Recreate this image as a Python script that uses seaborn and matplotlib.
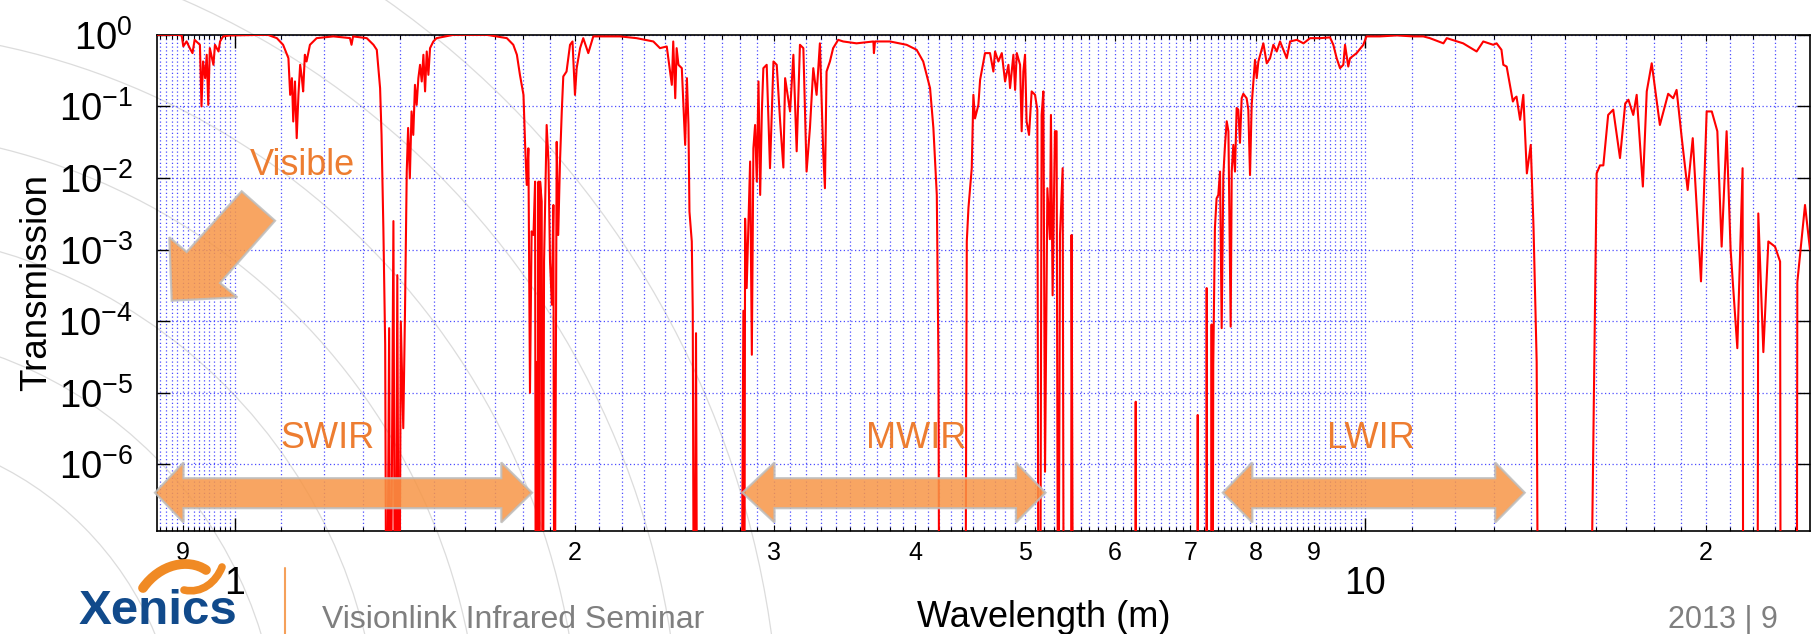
import matplotlib
matplotlib.use("Agg")
import matplotlib.pyplot as plt
import numpy as np
import pandas as pd
import seaborn as sns
from matplotlib.patches import Polygon, Circle, PathPatch
from matplotlib.path import Path
from matplotlib.ticker import FixedLocator, FixedFormatter, NullLocator

OFF = 1e-10  # below the axis floor: the trace runs off the bottom

# atmospheric transmission (wavelength in micron)
wavelength_um = [
    0.853, 0.889, 0.898, 0.901, 0.907, 0.913, 0.918, 0.922, 0.932, 0.935,
    0.938, 0.942, 0.945, 0.948, 0.951, 0.958, 0.961, 0.968, 0.971, 0.977,
    0.990, 1.070, 1.090, 1.104, 1.116, 1.120, 1.124, 1.127, 1.131, 1.135,
    1.139, 1.143, 1.147, 1.150, 1.154, 1.158, 1.166, 1.182, 1.223, 1.265,
    1.269, 1.273, 1.309, 1.327, 1.336, 1.345, 1.349, 1.354, 1.359, 1.363,
    1.370, 1.373, 1.382, 1.387, 1.393, 1.398, 1.403, 1.410, 1.415, 1.420,
    1.424, 1.429, 1.434, 1.439, 1.444, 1.449, 1.454, 1.459, 1.464, 1.469,
    1.474, 1.479, 1.484, 1.489, 1.499, 1.509, 1.562, 1.671, 1.741, 1.764,
    1.777, 1.788, 1.801, 1.807, 1.813, 1.819, 1.825, 1.831, 1.838, 1.844,
    1.847, 1.850, 1.853, 1.857, 1.860, 1.863, 1.869, 1.873, 1.878, 1.888,
    1.895, 1.901, 1.908, 1.914, 1.918, 1.927, 1.933, 1.940, 1.947, 1.953,
    1.966, 1.980, 1.990, 2.000, 2.007, 2.021, 2.034, 2.055, 2.076, 2.192,
    2.267, 2.346, 2.378, 2.411, 2.436, 2.443, 2.453, 2.460, 2.469, 2.486,
    2.503, 2.512, 2.520, 2.525, 2.537, 2.542, 2.549, 2.559, 2.566, 2.805,
    2.818, 2.823, 2.828, 2.837, 2.857, 2.867, 2.876, 2.886, 2.896, 2.906,
    2.916, 2.926, 2.935, 2.955, 2.975, 2.996, 3.016, 3.037, 3.057, 3.068,
    3.099, 3.120, 3.141, 3.162, 3.184, 3.205, 3.227, 3.249, 3.271, 3.293,
    3.316, 3.327, 3.338, 3.361, 3.383, 3.418, 3.453, 3.548, 3.672, 3.676,
    3.684, 3.798, 3.929, 4.010, 4.064, 4.121, 4.149, 4.178, 4.192, 4.201,
    4.426, 4.441, 4.456, 4.486, 4.501, 4.516, 4.547, 4.563, 4.594, 4.609,
    4.656, 4.688, 4.704, 4.736, 4.769, 4.801, 4.834, 4.850, 4.883, 4.900,
    4.917, 4.950, 4.966, 4.983, 5.000, 5.016, 5.041, 5.068, 5.103, 5.127,
    5.140, 5.155, 5.172, 5.190, 5.208, 5.233, 5.260, 5.271, 5.289, 5.314,
    5.332, 5.350, 5.369, 5.398, 5.412, 5.490, 5.497, 5.516, 6.255, 6.264,
    6.273, 7.098, 7.107, 7.116, 7.232, 7.238, 7.245, 7.300, 7.311, 7.323,
    7.335, 7.360, 7.385, 7.411, 7.437, 7.462, 7.487, 7.513, 7.539, 7.565,
    7.600, 7.616, 7.641, 7.667, 7.693, 7.719, 7.745, 7.772, 7.798, 7.851,
    7.878, 7.905, 7.932, 7.986, 8.014, 8.041, 8.123, 8.179, 8.234, 8.290,
    8.347, 8.404, 8.519, 8.577, 8.696, 8.814, 8.934, 9.118, 9.304, 9.366,
    9.431, 9.495, 9.559, 9.592, 9.656, 9.690, 9.822, 9.956, 10.02, 10.30,
    10.66, 11.02, 11.25, 11.40, 11.72, 11.80, 12.20, 12.54, 12.71, 12.97,
    13.06, 13.19, 13.24, 13.33, 13.42, 13.50, 13.55, 13.60, 13.70, 13.79,
    13.89, 14.00, 14.08, 14.17, 14.22, 15.78, 16.01, 16.12, 16.23, 16.39,
    16.56, 16.79, 16.97, 17.08, 17.25, 17.37, 17.59, 17.73, 17.91, 18.21,
    18.52, 18.71, 18.84, 19.04, 19.27, 19.47, 19.80, 20.03, 20.24, 20.47,
    20.65, 20.86, 21.03, 21.32, 21.55, 21.58, 22.21, 22.25, 22.48, 22.71,
    23.02, 23.26, 23.29, 24.06, 24.09, 24.47, 24.72,
]
transmission = [
    1.0, 1.0, 0.98, 0.69, 0.81, 0.65, 0.555, 0.85, 0.725, 0.10,
    0.424, 0.248, 0.526, 0.105, 0.651, 0.381, 0.725, 0.585, 0.807, 0.948,
    0.98, 1.0, 0.898, 0.725, 0.472, 0.145, 0.248, 0.0615, 0.223, 0.036,
    0.145, 0.381, 0.248, 0.162, 0.526, 0.424, 0.725, 0.898, 0.95, 0.90,
    0.725, 0.95, 0.898, 0.725, 0.617, 0.18, 0.04, 0.002, 4.7e-5, OFF,
    8e-5, OFF, 2.5e-3, OFF, 4.4e-4, OFF, 9.9e-5, 3.2e-6, 1.4e-4, 0.0123,
    0.05, 0.0099, 0.085, 0.04, 0.2, 0.105, 0.248, 0.381, 0.223, 0.526,
    0.162, 0.585, 0.276, 0.651, 0.807, 0.898, 1.0, 1.0, 0.898, 0.725,
    0.526, 0.276, 0.145, 0.029, 0.008, 0.026, 1.0e-5, 1.8e-3, 1.6e-3, 8.9e-3,
    OFF, 2.7e-5, OFF, 8.9e-3, OFF, 8.9e-3, 4.7e-3, OFF, 6.8e-4, 0.055,
    0.017, 6.8e-4, 1.7e-4, 4.2e-3, OFF, 0.032, 1.6e-3, 0.017, 0.085, 0.262,
    0.307, 0.725, 0.807, 0.145, 0.342, 0.651, 0.898, 0.555, 0.95, 0.95,
    0.898, 0.807, 0.651, 0.687, 0.2, 0.807, 0.13, 0.651, 0.381, 0.342,
    0.029, 0.248, 0.055, 3.4e-3, 1.3e-3, 1.4e-4, OFF, 6.8e-5, OFF, OFF,
    1.4e-4, OFF, 2.7e-3, 2.9e-4, 0.017, 3.4e-5, 0.026, 0.055, 0.0089, 0.223,
    0.0058, 0.085, 0.342, 0.381, 0.0137, 0.424, 0.381, 0.0615, 0.014, 0.248,
    0.085, 0.526, 0.0236, 0.725, 0.651, 0.0123, 0.05, 0.342, 0.145, 0.76,
    0.021, 0.0072, 0.307, 0.424, 0.651, 0.851, 0.807, 0.76, 0.807, 0.555,
    0.807, 0.807, 0.725, 0.617, 0.424, 0.18, 0.05, 0.0058, 2.7e-5, OFF,
    OFF, 1.3e-3, 3.8e-3, 0.0137, 0.145, 0.068, 0.105, 0.235, 0.424, 0.555,
    0.555, 0.307, 0.585, 0.424, 0.555, 0.223, 0.381, 0.18, 0.526, 0.17,
    0.555, 0.381, 0.045, 0.307, 0.526, 0.062, 0.04, 0.162, 0.145, 0.09,
    OFF, OFF, 0.076, 0.162, 7.9e-7, 7.2e-3, 1.4e-3, 0.076, 2.3e-4, 0.045,
    0.045, OFF, 1.6e-3, 0.0137, OFF, OFF, 1.6e-3, OFF, OFF, 7.5e-6,
    OFF, OFF, 4.9e-6, OFF, OFF, 2.9e-4, OFF, OFF, 9e-5, OFF,
    2.4e-5, 2e-3, 5.2e-3, 5.8e-3, 0.0123, 8e-5, 0.011, 0.029, 0.062, 0.045,
    8.4e-5, 0.0123, 0.029, 0.0123, 0.095, 0.09, 0.031, 0.13, 0.15, 0.13,
    0.09, 0.011, 0.105, 0.447, 0.248, 0.424, 0.76, 0.40, 0.47, 0.725,
    0.585, 0.807, 0.47, 0.807, 0.851, 0.76, 0.898, 0.898, 0.92, 0.725,
    0.47, 0.342, 0.381, 0.725, 0.36, 0.47, 0.555, 0.725, 0.95, 0.95,
    0.98, 0.95, 0.95, 0.898, 0.76, 0.898, 0.76, 0.585, 0.807, 0.725,
    0.76, 0.617, 0.381, 0.36, 0.2, 0.117, 0.13, 0.137, 0.065, 0.145,
    0.0116, 0.029, 0.002, 2.7e-5, OFF, OFF, 0.0116, 0.015, 0.015, 0.076,
    0.09, 0.019, 0.11, 0.124, 0.076, 0.145, 0.0076, 0.162, 0.40, 0.055,
    0.15, 0.13, 0.17, 0.036, 0.0068, 0.036, 3.6e-4, 0.085, 0.085, 0.045,
    1.1e-3, 0.045, 1.0e-3, 4.2e-5, 0.0137, OFF, OFF, 3.2e-3, 3.7e-5, 1.3e-3,
    1.1e-3, 6.8e-4, OFF, OFF, 3.5e-4, 4.2e-3, 1.0e-3,
]

xtick_major = [1, 10]
xtick_major_labels = ["1", "10"]
xtick_named = [0.9, 2, 3, 4, 5, 6, 7, 8, 9, 20]
xtick_named_labels = ["9", "2", "3", "4", "5", "6", "7", "8", "9", "2"]
ytick_values = [1e-6, 1e-5, 1e-4, 1e-3, 1e-2, 1e-1, 1]
ytick_labels = ["$10^{-6}$", "$10^{-5}$", "$10^{-4}$", "$10^{-3}$",
                "$10^{-2}$", "$10^{-1}$", "$10^{0}$"]
band_names = ["SWIR", "MWIR", "LWIR"]

W, H = 1817, 634
GRID = (0.3, 0.3, 1.0)
ARROW_FILL = "#F79646"
ARROW_EDGE = "#BDBDBD"
LABEL_ORANGE = "#ED7D31"
GREY_TEXT = "#7F7F7F"

sns.set_style("white")
plt.rcParams["font.family"] = ["Liberation Sans", "DejaVu Sans"]
plt.rcParams["mathtext.fontset"] = "custom"
plt.rcParams["mathtext.rm"] = "Liberation Sans"
plt.rcParams["mathtext.default"] = "regular"

fig = plt.figure(figsize=(W / 100, H / 100), dpi=100)
fig.patch.set_facecolor("white")


def fx(X):
    return X / W


def fy(Y):
    return 1 - Y / H


# faint contour lines of the slide background
for r in [330, 430, 530, 630, 730, 830, 930]:
    fig.add_artist(Circle((-1.5, (H - 760) / 100), r / 100,
                          transform=fig.dpi_scale_trans, fill=False,
                          ec="#dcdcdc", lw=0.9, zorder=-5))

ax = fig.add_axes([fx(156.7), fy(531), (1810 - 156.7) / W, (531 - 34.8) / H])
ax.set_facecolor("none")
ax.set_xscale("log")
ax.set_yscale("log")

df = pd.DataFrame({"wavelength": wavelength_um, "transmission": transmission})
sns.lineplot(data=df, x="wavelength", y="transmission", ax=ax, color="#FF0000",
             lw=1.5, sort=False, estimator=None, zorder=3)
ax.set_xlim(0.8535, 24.72)
ax.set_ylim(10 ** -6.93, 1)
ax.set_xlabel("")

# ticks: decades, every tenth of a decade, named ones a bit longer
minor_x = (list(np.round(np.arange(0.86, 0.995, 0.01), 2))
           + list(np.round(np.arange(1.1, 9.95, 0.1), 1))
           + list(range(11, 25)))
named = dict(zip(xtick_named, xtick_named_labels))
ax.xaxis.set_major_locator(FixedLocator(xtick_major))
ax.xaxis.set_major_formatter(FixedFormatter(xtick_major_labels))
ax.xaxis.set_minor_locator(FixedLocator(minor_x))
ax.xaxis.set_minor_formatter(FixedFormatter([named.get(v, "") for v in minor_x]))
ax.yaxis.set_major_locator(FixedLocator(ytick_values))
ax.yaxis.set_major_formatter(FixedFormatter(ytick_labels))
ax.yaxis.set_minor_locator(NullLocator())

ax.tick_params(axis="x", which="major", direction="in", length=9.4, width=1.0,
               top=True, bottom=True, labelsize=27, pad=25.5, colors="black")
ax.tick_params(axis="x", which="minor", direction="in", length=3, width=0.8,
               top=True, bottom=True, labelsize=18, pad=7.5, colors="black")
ax.tick_params(axis="y", which="major", direction="in", length=9.4, width=1.0,
               left=True, right=True, labelsize=27.5, pad=17, colors="black")
for t, v in zip(ax.xaxis.get_minor_ticks(len(minor_x)), minor_x):
    if v in named:
        t.tick1line.set_markersize(4.5)
        t.tick2line.set_markersize(4.5)

ax.grid(True, which="major", axis="both", color=GRID, linestyle=(0, (1, 2)), linewidth=0.9)
ax.grid(True, which="minor", axis="x", color=GRID, linestyle=(0, (1, 2)), linewidth=0.9)
for s in ax.spines.values():
    s.set_visible(True)
    s.set_color("black")
    s.set_linewidth(1.2)

ax.set_ylabel("Transmission", fontsize=26.5, color="black")
ax.yaxis.set_label_coords((54 - 156.7) / 1653.3, 0.5)
fig.text(fx(1044), fy(626.7), "Wavelength (m)", ha="center", va="baseline",
         fontsize=26, color="black")

# band arrows (left tip, left head end, right head start, right tip) in px
band_extents = [(155, 183.5, 501.3, 532), (742.5, 774.5, 1016, 1045.5),
                (1222.8, 1252.3, 1495.2, 1524.7)]
band_label_left = [280, 866, 1326.7]
for name, (L, HL, HR, R), lx in zip(band_names, band_extents, band_label_left):
    pts = [(L, 492.7), (HL, 462.5), (HL, 478.2), (HR, 478.2), (HR, 462.5),
           (R, 492.7), (HR, 522.5), (HR, 508.2), (HL, 508.2), (HL, 522.5)]
    fig.add_artist(Polygon([(fx(x), fy(y)) for x, y in pts], closed=True,
                           transform=fig.transFigure, fc=ARROW_FILL, ec=ARROW_EDGE,
                           lw=1.6, alpha=0.85, zorder=4))
    fig.text(fx(lx), fy(448), name, ha="left", va="baseline", fontsize=26,
             color=LABEL_ORANGE, zorder=5)

# "Visible" arrow pointing off the short end
vis_pts = [(171.7, 300.7), (169.3, 237.3), (186.7, 252), (241.7, 191.3),
           (275, 220.7), (220, 283), (237.3, 297.3)]
fig.add_artist(Polygon([(fx(x), fy(y)) for x, y in vis_pts], closed=True,
                       transform=fig.transFigure, fc=ARROW_FILL, ec=ARROW_EDGE,
                       lw=1.6, alpha=0.85, zorder=4))
fig.text(fx(250), fy(174.7), "Visible", ha="left", va="baseline", fontsize=26,
         color=LABEL_ORANGE, zorder=5)

# slide footer
for verts, lw in [([(143, 588), (160, 564), (188, 558), (206, 570)], 7),
                  ([(184, 590), (202, 594), (216, 582), (222, 567)], 5.5)]:
    path = Path([(fx(x), fy(y)) for x, y in verts],
                [Path.MOVETO, Path.CURVE4, Path.CURVE4, Path.CURVE4])
    fig.add_artist(PathPatch(path, transform=fig.transFigure, fill=False,
                             ec="#F08A24", lw=lw, capstyle="round", zorder=2))
fig.text(fx(79), fy(624), "Xenics", ha="left", va="baseline", fontsize=35.5,
         fontweight="bold", color="#114A8B")
fig.add_artist(plt.Line2D([fx(285), fx(285)], [fy(568), fy(634)],
                          transform=fig.transFigure, color="#F5A05A", lw=1.5))
fig.text(fx(321.5), fy(628), "Visionlink Infrared Seminar", ha="left",
         va="baseline", fontsize=23, color=GREY_TEXT)
fig.text(fx(1668), fy(628), "2013 | 9", ha="left", va="baseline", fontsize=22,
         color=GREY_TEXT)

fig.savefig("out.png", dpi=100)
